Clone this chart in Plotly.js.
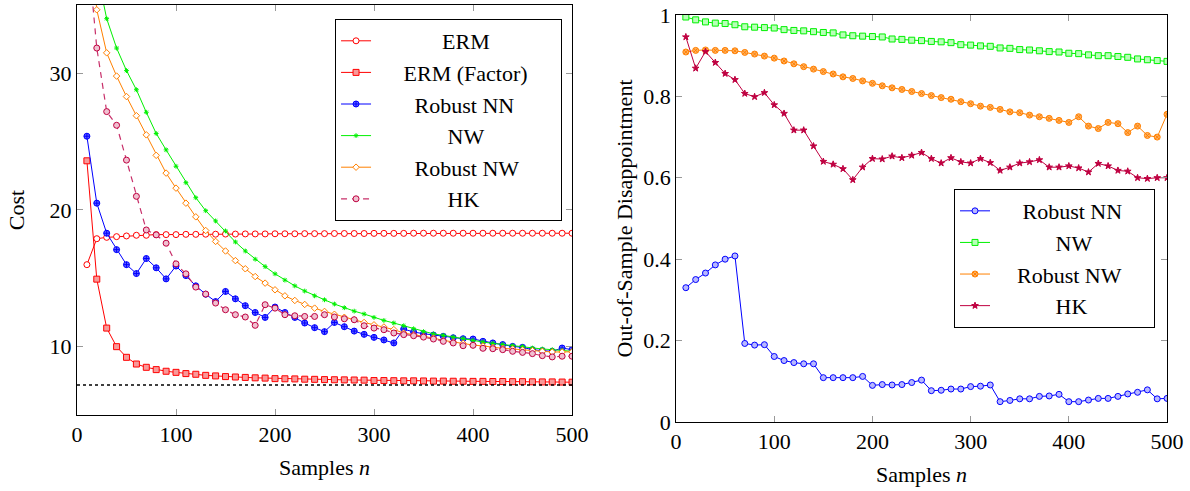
<!DOCTYPE html>
<html>
<head>
<meta charset="utf-8">
<script src="https://cdn.plot.ly/plotly-3.0.1.min.js"></script>
<style>
html,body{margin:0;padding:0;background:#fff;}
#chart{width:1190px;height:491px;}
#chart text{font-family:'Liberation Serif' !important;}
</style>
</head>
<body>
<div id="chart"></div>
<script>
const samples = [10,20,30,40,50,60,70,80,90,100,110,120,130,140,150,160,170,180,190,200,210,220,230,240,250,260,270,280,290,300,310,320,330,340,350,360,370,380,390,400,410,420,430,440,450,460,470,480,490,500];

// Left panel: Cost
const costERM = [16.0,17.9,18.0,18.05,18.1,18.15,18.15,18.2,18.2,18.2,18.22,18.22,18.23,18.23,18.24,18.24,18.25,18.25,18.25,18.26,18.26,18.26,18.27,18.27,18.27,18.28,18.28,18.28,18.28,18.29,18.29,18.29,18.29,18.3,18.3,18.3,18.3,18.3,18.3,18.3,18.3,18.3,18.3,18.3,18.3,18.3,18.3,18.3,18.3,18.3];
const costERMFactor = [23.6,14.94,11.36,10.0,9.22,8.73,8.49,8.32,8.2,8.12,8.03,7.98,7.9,7.86,7.81,7.78,7.75,7.72,7.7,7.66,7.65,7.64,7.62,7.61,7.59,7.58,7.57,7.56,7.55,7.52,7.52,7.51,7.5,7.5,7.49,7.48,7.48,7.47,7.47,7.46,7.46,7.45,7.45,7.44,7.44,7.43,7.42,7.42,7.41,7.4];
const costRobustNN = [25.4,20.5,18.3,17.1,16.0,15.35,16.45,15.77,14.96,15.9,15.2,14.45,13.84,13.3,14.04,13.5,13.0,12.5,12.14,12.9,12.5,12.14,11.73,11.39,11.1,11.77,11.46,11.14,10.9,10.68,10.49,10.27,11.29,11.07,10.95,10.85,10.75,10.65,10.58,10.56,10.39,10.27,10.15,10.02,9.95,9.78,9.71,9.66,9.9,9.78];
const costNW = [46,37.5,34.0,31.85,30.2,28.8,27.15,25.6,24.4,23.2,22.0,20.9,19.95,19.2,18.47,17.66,17.0,16.4,15.86,15.33,14.87,14.45,14.07,13.72,13.43,13.12,12.85,12.6,12.39,12.14,11.92,11.73,11.53,11.31,11.1,10.93,10.83,10.7,10.6,10.46,10.34,10.24,10.15,10.07,10.0,9.9,9.83,9.78,9.73,9.66];
const costRobustNW = [42,34.65,31.5,29.8,28.3,26.9,25.5,24.0,22.7,21.6,20.5,19.5,18.5,17.7,17.0,16.3,15.7,15.13,14.65,14.16,13.72,13.38,13.09,12.82,12.58,12.37,12.15,11.97,11.77,11.6,11.44,11.25,11.0,10.88,10.75,10.63,10.46,10.34,10.24,10.12,10.05,9.95,9.88,9.83,9.76,9.71,9.66,9.61,9.61,9.62];
const costHK = [39.7,31.85,27.2,26.2,23.65,21.0,18.54,18.18,17.57,16.06,15.33,14.36,13.85,13.19,12.7,12.34,12.17,11.56,13.07,12.82,12.34,12.26,12.21,12.21,12.34,12.17,12.04,11.97,11.53,11.36,11.24,11.0,10.88,10.8,10.7,10.56,10.39,10.27,10.07,10.1,9.88,9.85,9.78,9.66,9.58,9.49,9.34,9.25,9.3,9.3];
const oracleX = [0,500];
const oracleCost = [7.2,7.2];

// Right panel: Out-of-sample disappointment
const disRobustNN = [0.33,0.35,0.366,0.386,0.40,0.408,0.193,0.189,0.19,0.161,0.151,0.146,0.143,0.143,0.109,0.109,0.109,0.109,0.112,0.09,0.092,0.091,0.092,0.097,0.103,0.077,0.078,0.081,0.081,0.087,0.088,0.091,0.05,0.053,0.057,0.057,0.063,0.064,0.068,0.05,0.05,0.054,0.058,0.058,0.063,0.069,0.073,0.079,0.057,0.058];
const disNW = [0.995,0.988,0.983,0.98,0.979,0.976,0.971,0.97,0.969,0.968,0.964,0.962,0.961,0.959,0.957,0.956,0.951,0.949,0.948,0.947,0.946,0.941,0.94,0.938,0.937,0.935,0.934,0.932,0.927,0.926,0.924,0.923,0.919,0.918,0.915,0.914,0.912,0.91,0.909,0.906,0.905,0.902,0.9,0.9,0.898,0.896,0.892,0.89,0.888,0.886];
const disRobustNW = [0.909,0.913,0.914,0.913,0.913,0.912,0.908,0.904,0.899,0.894,0.887,0.88,0.873,0.867,0.861,0.855,0.848,0.844,0.838,0.832,0.826,0.821,0.817,0.812,0.807,0.802,0.797,0.793,0.787,0.782,0.776,0.773,0.768,0.762,0.76,0.754,0.75,0.746,0.741,0.736,0.75,0.727,0.721,0.736,0.733,0.711,0.727,0.704,0.7,0.756];
const disHK = [0.946,0.869,0.91,0.883,0.856,0.841,0.807,0.799,0.809,0.779,0.758,0.717,0.717,0.678,0.64,0.633,0.622,0.595,0.626,0.647,0.646,0.653,0.649,0.655,0.662,0.647,0.636,0.649,0.639,0.636,0.647,0.637,0.618,0.626,0.636,0.639,0.644,0.626,0.626,0.629,0.624,0.614,0.635,0.629,0.618,0.616,0.6,0.598,0.6,0.6];

const RED='#ff0000', BLUE='#0000ff', GREEN='#00f000', ORANGE='#ff8000', PURPLE='#bf0040';
const NB='\u00A0';
function pad(name,lead,trail){ return NB.repeat(lead)+name+NB.repeat(trail||0); }

function tr(x,y,name,color,sym,size,fill,opts){
  return Object.assign({
    x:x, y:y, name:name, type:'scatter', mode:'lines+markers',
    line:{color:color,width:1},
    marker:{symbol:sym,size:size,color:fill,line:{color:color,width:1}}
  },opts||{});
}

const data = [
  tr(samples,costERM,pad('ERM',12),RED,'circle',6,'#ffffff',{legend:'legend'}),
  tr(samples,costERMFactor,pad('ERM (Factor)',5,5),RED,'square',6,'#f89898',{legend:'legend'}),
  tr(samples,costRobustNN,pad('Robust NN',7),BLUE,'circle-cross',6,'#6060ff',{legend:'legend'}),
  tr(samples,costNW,pad('NW',13),GREEN,'asterisk',4,GREEN,{legend:'legend'}),
  tr(samples,costRobustNW,pad('Robust NW',7),ORANGE,'diamond',5,'#ffffff',{legend:'legend'}),
  Object.assign(tr(samples,costHK,pad('HK',13),PURPLE,'circle',6,'#f0c0d0',{legend:'legend'}),{line:{color:'#c8306a',width:1.2,dash:'6px,5px'}}),
  {x:oracleX,y:oracleCost,type:'scatter',mode:'lines',line:{color:'#000',width:1.5,dash:'dot'},showlegend:false,hoverinfo:'skip'},

  tr(samples,disRobustNN,pad('Robust NN',5),BLUE,'circle',6,'#b8b8ff',{xaxis:'x2',yaxis:'y2',legend:'legend2'}),
  tr(samples,disNW,pad('NW',11),GREEN,'square',6,'#b8ffb8',{xaxis:'x2',yaxis:'y2',legend:'legend2'}),
  tr(samples,disRobustNW,pad('Robust NW',4,5),ORANGE,'circle-x',6,'#ffb060',{xaxis:'x2',yaxis:'y2',legend:'legend2'}),
  tr(samples,disHK,pad('HK',11),PURPLE,'star',5,PURPLE,{xaxis:'x2',yaxis:'y2',legend:'legend2'})
];

function ax(extra){
  return Object.assign({
    showline:true, linecolor:'#000', linewidth:1, mirror:'ticks',
    ticks:'inside', ticklen:6, tickcolor:'#999', tickwidth:1,
    showgrid:false, zeroline:false,
    tickfont:{family:'Liberation Serif',size:22}
  },extra);
}

const layout = {
  width:1190, height:491,
  margin:{l:0,r:0,t:0,b:0},
  font:{family:'Liberation Serif',size:22,color:'black'},
  xaxis:ax({domain:[0.0647,0.4807],range:[0,500],tickvals:[0,100,200,300,400,500],anchor:'y',
    title:{text:'Samples <i>n</i>',font:{family:'Liberation Serif',size:22},standoff:13}}),
  yaxis:ax({domain:[0.1548,0.9898],range:[5,35],tickvals:[10,20,30],anchor:'x',
    title:{text:'Cost',font:{family:'Liberation Serif',size:22},standoff:18}}),
  xaxis2:ax({domain:[0.5681,0.9807],range:[0,500],tickvals:[0,100,200,300,400,500],anchor:'y2',
    title:{text:'Samples <i>n</i>',font:{family:'Liberation Serif',size:22},standoff:13}}),
  yaxis2:ax({domain:[0.1405,0.9695],range:[0,1],tickvals:[0,0.2,0.4,0.6,0.8,1],anchor:'x2',
    title:{text:'Out-of-Sample Disappointment',font:{family:'Liberation Serif',size:22},standoff:4}}),
  legend:{x:0.4723,xanchor:'right',y:0.9613,yanchor:'top',bordercolor:'#000',borderwidth:1,bgcolor:'#fff',
    font:{family:'Liberation Serif',size:22},tracegroupgap:0},
  legend2:{x:0.9706,xanchor:'right',y:0.615,yanchor:'top',bordercolor:'#000',borderwidth:1,bgcolor:'#fff',
    font:{family:'Liberation Serif',size:22},tracegroupgap:0},
  showlegend:true
};

Plotly.newPlot('chart',data,layout,{staticPlot:true});
</script>
</body>
</html>
